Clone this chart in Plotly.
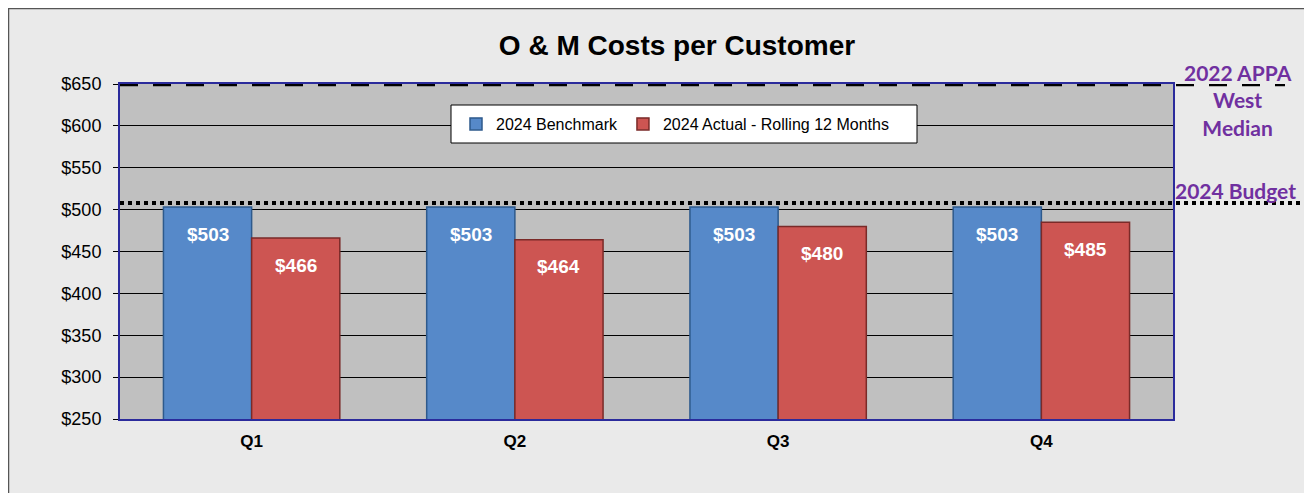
import plotly.graph_objects as go

categories = ["Q1", "Q2", "Q3", "Q4"]
benchmark = [503, 503, 503, 503]
actual = [466, 464, 480, 485]
appa_median = 650
budget = 508
y_ticks = [250, 300, 350, 400, 450, 500, 550, 600, 650]
y_tick_labels = ["$" + str(v) for v in y_ticks]

blue = "#5689C9"
red = "#CD5552"

W, H = 1304, 485
L, R, T, B = 112, 139, 76, 74
PW, PH = W - L - R, H - T - B


def px(x):
    return (x - L) / PW


def py(y):
    return (H - B - y) / PH


fig = go.Figure()
fig.add_trace(go.Bar(name="2024 Benchmark", x=categories, y=benchmark,
                     marker=dict(color=blue, line=dict(color="#2E5A8C", width=1.5))))
fig.add_trace(go.Bar(name="2024 Actual - Rolling 12 Months", x=categories, y=actual,
                     marker=dict(color=red, line=dict(color="#7A2A28", width=1.5))))

annotations = []
lbl_font = dict(family="Liberation Sans", size=19, color="white", weight="bold")
for i, c in enumerate(categories):
    annotations.append(dict(x=i - 0.167, y=benchmark[i], xref="x", yref="y", text="$" + str(benchmark[i]),
                            showarrow=False, yshift=-27, font=lbl_font))
    annotations.append(dict(x=i + 0.167, y=actual[i], xref="x", yref="y", text="$" + str(actual[i]),
                            showarrow=False, yshift=-27, font=lbl_font))

purple = "#7030A0"
ann_font = dict(family="Lato", size=21, color=purple, weight="bold")
annotations.append(dict(x=px(1230), y=py(50), xref="paper", yref="paper",
                        text="2022 APPA<br>West<br>Median",
                        showarrow=False, xanchor="center", yanchor="top", align="center", font=ann_font))
annotations.append(dict(x=px(1227), y=budget, xref="paper", yref="y", text="2024 Budget",
                        showarrow=False, xanchor="center", yanchor="bottom", yshift=-2, font=ann_font))

shapes = [
    dict(type="rect", xref="paper", yref="paper", x0=px(0.5), x1=px(1310), y0=py(H + 20), y1=py(0.5),
         line=dict(color="#555555", width=1.5), fillcolor="rgba(0,0,0,0)", layer="below"),
    dict(type="line", xref="paper", yref="y", x0=0, x1=px(1277), y0=appa_median, y1=appa_median,
         line=dict(color="black", width=4.5, dash="18px,15px")),
    dict(type="line", xref="paper", yref="y", x0=0, x1=px(1292), y0=budget, y1=budget,
         line=dict(color="black", width=4, dash="4px,4px")),
    # legend frame
    dict(type="rect", xref="paper", yref="paper", x0=px(443), x1=px(909), y0=py(135), y1=py(97),
         line=dict(color="black", width=1), fillcolor="white", layer="above"),
]

fig.update_layout(
    width=W, height=H,
    margin=dict(l=L, r=R, t=T, b=B),
    paper_bgcolor="#EAEAEA",
    plot_bgcolor="#C0C0C0",
    barmode="group", bargap=0.33, bargroupgap=0,
    title=dict(text="O & M Costs per Customer", x=669 / W, xanchor="center", y=1 - 37 / H, yanchor="middle",
               font=dict(family="Liberation Sans", size=28, color="black", weight="bold")),
    legend=dict(orientation="h", x=px(448), y=py(99), xanchor="left", yanchor="top",
                bgcolor="rgba(0,0,0,0)", borderwidth=0,
                font=dict(family="Liberation Sans", size=16, color="black"),
                itemwidth=30),
    xaxis=dict(showgrid=False, showline=True, linecolor="#2B2B9C", linewidth=2, mirror=True,
               tickfont=dict(family="Liberation Sans", size=17, color="black", weight="bold"),
               ticks="", ticklabelstandoff=6),
    yaxis=dict(range=[250, 650], tickvals=y_ticks, ticktext=y_tick_labels,
               showgrid=True, gridcolor="black", gridwidth=1,
               showline=True, linecolor="#2B2B9C", linewidth=2, mirror=True,
               ticks="outside", ticklen=5, tickcolor="black", ticklabelstandoff=8,
               tickfont=dict(family="Liberation Sans", size=18, color="black")),
    annotations=annotations,
    shapes=shapes,
    showlegend=True,
)

fig.write_html("out.html")
